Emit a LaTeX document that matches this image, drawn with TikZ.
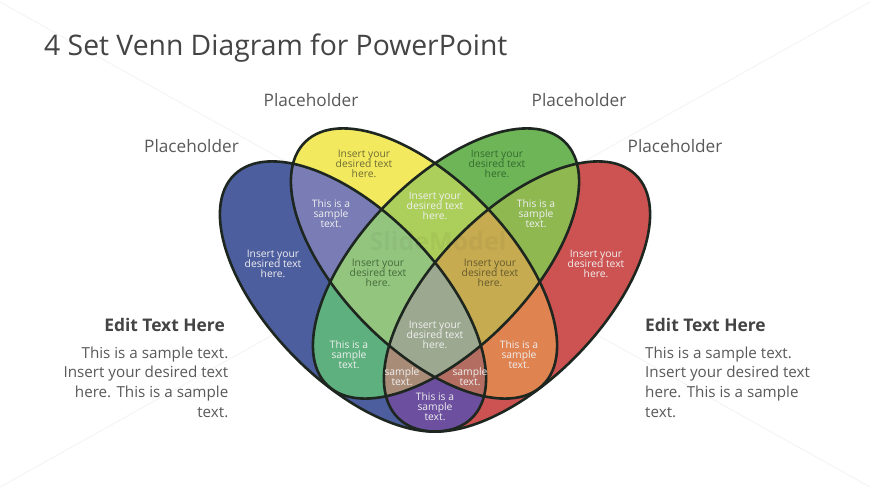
\documentclass[tikz,border=0pt]{standalone}
\usepackage{fontspec}
\setmainfont{Open Sans}
\definecolor{cB}{HTML}{4D5E9F}
\definecolor{cY}{HTML}{F2E95E}
\definecolor{cG}{HTML}{6EB558}
\definecolor{cR}{HTML}{CD5352}
\definecolor{cBY}{HTML}{7A7DB5}
\definecolor{cYG}{HTML}{ACCF5B}
\definecolor{cGR}{HTML}{8FB851}
\definecolor{cBG}{HTML}{5EB07E}
\definecolor{cYR}{HTML}{DF8351}
\definecolor{cBR}{HTML}{6C509F}
\definecolor{cBYG}{HTML}{94C57E}
\definecolor{cYGR}{HTML}{C6AB50}
\definecolor{cBGR}{HTML}{A98C78}
\definecolor{cBYR}{HTML}{B36E61}
\definecolor{cAll}{HTML}{9CA88F}
\definecolor{cLine}{HTML}{1E2620}
\definecolor{cTitle}{HTML}{444444}
\definecolor{cBody}{HTML}{595959}
\definecolor{tY}{HTML}{6F6C34}
\definecolor{tG}{HTML}{336B2E}
\definecolor{tBYG}{HTML}{446B3C}
\definecolor{tYGR}{HTML}{655A2C}
\tikzset{
  x=1pt,y=-1pt,
  small/.style={align=center,font=\fontsize{10.3}{10.3}\selectfont,inner sep=0pt,yshift=-0.8pt},
  light/.style={small,text=white!94!black},
  dark/.style={small},
  head/.style={font=\fontsize{17.2}{20}\selectfont,text=cBody,inner sep=0pt},
  bodyr/.style={align=right,font=\fontsize{15.2}{19.7}\selectfont,text=cBody,inner sep=0pt,anchor=north east},
  bodyl/.style={align=left,font=\fontsize{15.2}{19.7}\selectfont,text=cBody,inner sep=0pt,anchor=north west},
  bold/.style={font=\fontsize{17.4}{20}\selectfont\bfseries,text=cTitle,inner sep=0pt},
  ring/.style={draw=cLine,line width=2.6},
}
\newcommand{\shB}{[shift={(353,296.5)},rotate=-45.7] (0,0) ellipse [x radius=170,y radius=84]}
\newcommand{\shY}{[shift={(424,263.5)},rotate=-45.7] (0,0) ellipse [x radius=170,y radius=84]}
\newcommand{\shG}{[shift={(446,263.5)},rotate=45.7] (0,0) ellipse [x radius=170,y radius=84]}
\newcommand{\shR}{[shift={(517,296.5)},rotate=45.7] (0,0) ellipse [x radius=170,y radius=84]}
\begin{document}
\begin{tikzpicture}
\useasboundingbox (0,0) rectangle (870,489);
\fill[white] (0,0) rectangle (870,489);
% faint background lines
\coordinate (c1) at (0,2); \coordinate (c2) at (870,487);
\coordinate (c3) at (870,2); \coordinate (c4) at (0,487);
\draw[black!5,line width=.7] (c1) -- (c2);
\draw[black!5,line width=.7] (c3) -- (c4);
% single sets
\fill[cB] \shB; \fill[cY] \shY; \fill[cG] \shG; \fill[cR] \shR;
% pairs
\begin{scope}\clip \shB; \fill[cBY] \shY; \end{scope}
\begin{scope}\clip \shY; \fill[cYG] \shG; \end{scope}
\begin{scope}\clip \shG; \fill[cGR] \shR; \end{scope}
\begin{scope}\clip \shB; \fill[cBG] \shG; \end{scope}
\begin{scope}\clip \shY; \fill[cYR] \shR; \end{scope}
\begin{scope}\clip \shB; \fill[cBR] \shR; \end{scope}
% triples
\begin{scope}\clip \shB; \clip \shY; \fill[cBYG] \shG; \end{scope}
\begin{scope}\clip \shY; \clip \shG; \fill[cYGR] \shR; \end{scope}
\begin{scope}\clip \shB; \clip \shG; \fill[cBGR] \shR; \end{scope}
\begin{scope}\clip \shB; \clip \shY; \fill[cBYR] \shR; \end{scope}
% all
\begin{scope}\clip \shB; \clip \shY; \clip \shG; \fill[cAll] \shR; \end{scope}
% outlines
\path[ring] \shB; \path[ring] \shY; \path[ring] \shG; \path[ring] \shR;
% watermark
\node[font=\fontsize{25}{25}\selectfont\bfseries,text=black,opacity=.04,inner sep=0pt] (wm) at (438,241) {SlideModel};
% title and labels
\node[anchor=west,font=\fontsize{28.3}{30}\selectfont,text=cTitle,inner sep=0pt] (title) at (44,48.5) {4 Set Venn Diagram for PowerPoint};
\node[head] (p1) at (191.5,146) {Placeholder};
\node[head] (p2) at (311,100) {Placeholder};
\node[head] (p3) at (579,100) {Placeholder};
\node[head] (p4) at (675,146) {Placeholder};
\node[bold,anchor=east] (e1) at (225,325) {Edit Text Here};
\node[bold,anchor=west] (e2) at (645,325) {Edit Text Here};
\node[bodyr] (b1) at (228.5,346.5) {This is a sample text.\\Insert your desired text\\here. This is a sample\\text.};
\node[bodyl] (b2) at (645,346.5) {This is a sample text.\\Insert your desired text\\here. This is a sample\\text.};
% region texts
\node[light] (t1) at (273,263) {Insert your\\desired text\\here.};
\node[dark,text=tY]  (t2) at (364,163) {Insert your\\desired text\\here.};
\node[dark,text=tG]  (t3) at (497,163) {Insert your\\desired text\\here.};
\node[light] (t4) at (596,263) {Insert your\\desired text\\here.};
\node[light] (t5) at (331,213) {This is a\\sample\\text.};
\node[light] (t6) at (435,205) {Insert your\\desired text\\here.};
\node[light] (t7) at (536,213) {This is a\\sample\\text.};
\node[dark,text=tBYG]  (t8) at (378,272) {Insert your\\desired text\\here.};
\node[dark,text=tYGR]  (t9) at (490,272) {Insert your\\desired text\\here.};
\node[light] (t10) at (435,334) {Insert your\\desired text\\here.};
\node[light] (t11) at (349,354) {This is a\\sample\\text.};
\node[light] (t12) at (519,354) {This is a\\sample\\text.};
\node[light] (t13) at (402,376) {sample\\text.};
\node[light] (t14) at (470,376) {sample\\text.};
\node[light] (t15) at (435,406) {This is a\\sample\\text.};
\end{tikzpicture}
\end{document}
